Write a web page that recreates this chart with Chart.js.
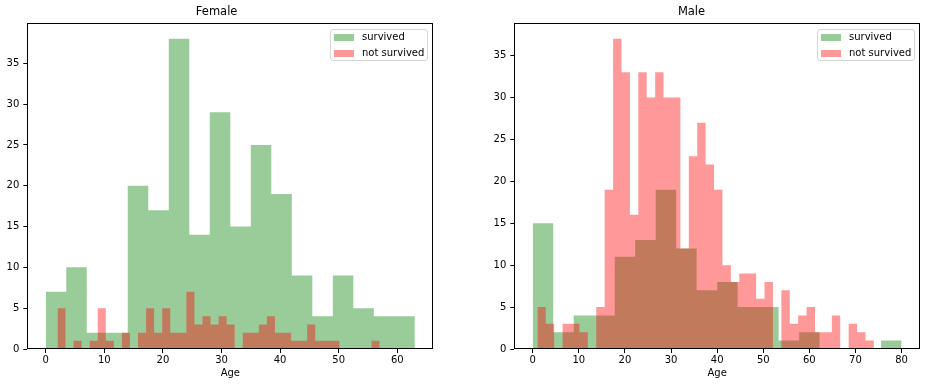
<!DOCTYPE html>
<html>
<head>
<meta charset="utf-8">
<title>Survival by age and sex</title>
<script src="https://cdn.jsdelivr.net/npm/chart.js@4"></script>
<style>
  html, body { margin: 0; padding: 0; background: #fff; }
  #wrap { position: relative; width: 926px; height: 387px; font-family: "DejaVu Sans", sans-serif; }
  canvas { position: absolute; top: 0; }
  .legend {
    position: absolute; width: 98px; height: 32px; box-sizing: border-box;
    border: 1px solid #d6d6d6; border-radius: 3px; background: rgba(255,255,255,0.8);
    font-size: 10px; color: #000;
  }
  .legend .row { position: absolute; left: 0; height: 12px; line-height: 12px; white-space: nowrap; }
  .legend .patch { position: absolute; left: 3px; top: 3px; width: 20px; height: 7px; }
  .legend .label { position: absolute; left: 31px; top: 0; }
</style>
</head>
<body>
<div id="wrap">
  <canvas id="female" width="463" height="387" style="left:0"></canvas>
  <canvas id="male" width="463" height="387" style="left:463px"></canvas>
  <div class="legend" style="left:330px; top:29px">
    <div class="row" style="top:1px"><span class="patch" style="background:rgba(0,128,0,0.4)"></span><span class="label">survived</span></div>
    <div class="row" style="top:17px"><span class="patch" style="background:rgba(255,0,0,0.4)"></span><span class="label">not survived</span></div>
  </div>
  <div class="legend" style="left:817px; top:29px">
    <div class="row" style="top:1px"><span class="patch" style="background:rgba(0,128,0,0.4)"></span><span class="label">survived</span></div>
    <div class="row" style="top:17px"><span class="patch" style="background:rgba(255,0,0,0.4)"></span><span class="label">not survived</span></div>
  </div>
</div>
<script>
// ─── Data: histogram counts per bin, with the age range each histogram spans ───

const FEMALE_SURVIVED     = [7, 10, 2, 2, 20, 17, 38, 14, 29, 15, 25, 19, 9, 4, 9, 5, 4, 4];
const FEMALE_SURVIVED_AGE = [0, 63];

const FEMALE_DIED     = [5, 0, 1, 0, 1, 5, 1, 0, 2, 0, 2, 5, 2, 5, 2, 2, 7, 3, 4, 3,
                         4, 3, 0, 2, 2, 3, 4, 2, 2, 1, 1, 3, 1, 1, 1, 0, 0, 0, 0, 1];
const FEMALE_DIED_AGE = [2, 57];

const MALE_SURVIVED     = [15, 2, 4, 4, 11, 13, 19, 12, 7, 8, 5, 5, 1, 2, 0, 0, 0, 1];
const MALE_SURVIVED_AGE = [0, 80];

const MALE_DIED     = [5, 3, 0, 3, 3, 2, 0, 5, 19, 37, 33, 16, 33, 30, 33, 30, 30, 12, 23, 27,
                       22, 19, 10, 8, 9, 9, 6, 8, 0, 7, 3, 4, 5, 2, 2, 4, 0, 3, 2, 1];
const MALE_DIED_AGE = [1, 74];

const AGE_TICK_STEP   = 10;
const COUNT_TICK_STEP = 5;

const GREEN = 'rgba(0,128,0,0.4)';
const RED   = 'rgba(255,0,0,0.4)';
const FONT  = 'DejaVu Sans';

// ─── Helpers ───────────────────────────────────────────────────────────────────

// step points: one per bin left edge, plus the final right edge
function steps(counts, range) {
  const w = (range[1] - range[0]) / counts.length;
  const pts = counts.map((c, i) => ({ x: range[0] + i * w, y: c }));
  pts.push({ x: range[1], y: counts[counts.length - 1] });
  return pts;
}

function histSet(label, counts, range, color, order) {
  return {
    label,
    data: steps(counts, range),
    stepped: 'before',
    fill: 'origin',
    backgroundColor: color,
    borderColor: 'transparent',
    borderWidth: 0,
    pointRadius: 0,
    order
  };
}

const frame = {
  id: 'frame',
  afterDraw(chart) {
    const { ctx, chartArea: a } = chart;
    ctx.save();
    ctx.strokeStyle = '#000';
    ctx.lineWidth = 1;
    const l = Math.round(a.left) + 0.5, t = Math.round(a.top) + 0.5;
    const r = Math.round(a.right) - 0.5, b = Math.round(a.bottom) - 0.5;
    ctx.strokeRect(l, t, r - l, b - t);
    ctx.restore();
  }
};

function makeChart(id, title, survived, survivedAge, died, diedAge, yWidth, padRight) {
  const lo = Math.min(survivedAge[0], diedAge[0]);
  const hi = Math.max(survivedAge[1], diedAge[1]);
  const xm = (hi - lo) * 0.05;
  const ymax = Math.max(...survived, ...died) * 1.05;

  const tickGrid = { drawOnChartArea: false, drawTicks: true, tickLength: 4, color: '#000', tickColor: '#000', lineWidth: 1 };

  return new Chart(document.getElementById(id), {
    type: 'line',
    data: {
      datasets: [
        histSet('survived', survived, survivedAge, GREEN, 1),
        histSet('not survived', died, diedAge, RED, 0)
      ]
    },
    options: {
      responsive: false,
      animation: false,
      layout: { padding: { left: 0, right: padRight, top: 0, bottom: 0 } },
      plugins: {
        legend: { display: false },
        tooltip: { enabled: false },
        title: {
          display: true,
          text: title,
          color: '#000',
          font: { family: FONT, size: 11.5, weight: 'normal' },
          padding: { top: 5.5, bottom: 4 }
        }
      },
      scales: {
        x: {
          type: 'linear',
          min: lo - xm,
          max: hi + xm,
          grid: tickGrid,
          border: { display: false },
          ticks: { stepSize: AGE_TICK_STEP, includeBounds: false, color: '#000', padding: 1, maxRotation: 0,
                   font: { family: FONT, size: 10 } },
          title: { display: true, text: 'Age', color: '#000', font: { family: FONT, size: 10 },
                   padding: { top: 0, bottom: 7.5 } },
          afterFit: s => { s.height = 38; }
        },
        y: {
          type: 'linear',
          min: 0,
          max: ymax,
          grid: tickGrid,
          border: { display: false },
          ticks: { stepSize: COUNT_TICK_STEP, includeBounds: false, color: '#000', padding: 4,
                   font: { family: FONT, size: 10 } },
          afterFit: s => { s.width = yWidth; }
        }
      }
    },
    plugins: [frame]
  });
}

makeChart('female', 'Female', FEMALE_SURVIVED, FEMALE_SURVIVED_AGE, FEMALE_DIED, FEMALE_DIED_AGE, 27.3, 29.7);
makeChart('male', 'Male', MALE_SURVIVED, MALE_SURVIVED_AGE, MALE_DIED, MALE_DIED_AGE, 51.3, 6);
</script>
</body>
</html>
